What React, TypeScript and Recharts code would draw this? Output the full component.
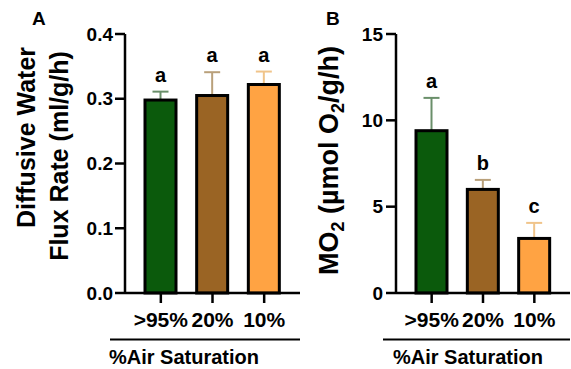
import React from "react";
import { BarChart, Bar, XAxis, YAxis, Label } from "recharts";

const GROUPS = [">95%", "20%", "10%"];

const FLUX_MEAN = [0.298, 0.305, 0.322];
const FLUX_SD = [0.013, 0.036, 0.02];
const FLUX_LETTERS = ["a", "a", "a"];
const FLUX_TICKS = [0, 0.1, 0.2, 0.3, 0.4];

const MO2_MEAN = [9.4, 6.0, 3.16];
const MO2_SD = [1.9, 0.55, 0.9];
const MO2_LETTERS = ["a", "b", "c"];
const MO2_TICKS = [0, 5, 10, 15];

const FILLS = ["#0b5a0c", "#9a6424", "#ffa343"];
const ERR_COLORS = ["#6a8f6a", "#b9a07a", "#f0c48a"];
const FONT = "'Liberation Sans', Arial, sans-serif";

const fluxData = GROUPS.map((g, i) => ({ group: g, value: FLUX_MEAN[i], sd: FLUX_SD[i], letter: FLUX_LETTERS[i] }));
const mo2Data = GROUPS.map((g, i) => ({ group: g, value: MO2_MEAN[i], sd: MO2_SD[i], letter: MO2_LETTERS[i] }));

// bar + upward-only SD whisker + significance letter
function BarWithError(props: any) {
  const { x, y, width, height, index, payload } = props;
  const cx = x + width / 2;
  const perUnit = height / payload.value;
  const yTop = y - payload.sd * perUnit;
  const ec = ERR_COLORS[index % ERR_COLORS.length];
  return (
    <g>
      <line x1={cx} x2={cx} y1={y} y2={yTop} stroke={ec} strokeWidth={2} />
      <line x1={cx - 8} x2={cx + 8} y1={yTop} y2={yTop} stroke={ec} strokeWidth={2} />
      <rect x={x} y={y} width={width} height={height} fill={FILLS[index % FILLS.length]} stroke="#000" strokeWidth={3} />
      <text x={cx} y={yTop - 10} textAnchor="middle" fontFamily={FONT} fontWeight="bold" fontSize={20} fill="#000">
        {payload.letter}
      </text>
    </g>
  );
}

const tickStyle = { fontFamily: FONT, fontWeight: "bold" as const, fill: "#000" };

function xTitle(lineFrom: number, lineTo: number, textX: number) {
  return (props: any) => {
    const vb = props.viewBox;
    return (
      <g>
        <line x1={vb.x + lineFrom} x2={vb.x + vb.width + lineTo} y1={vb.y + 46.5} y2={vb.y + 46.5} stroke="#000" strokeWidth={2} />
        <text x={vb.x + textX} y={vb.y + 71} textAnchor="middle" fontFamily={FONT} fontWeight="bold" fontSize={20} fill="#000">
          %Air Saturation
        </text>
      </g>
    );
  };
}

function fluxYTitle(props: any) {
  const vb = props.viewBox;
  return (
    <g fontFamily={FONT} fontWeight="bold" fontSize={25} fill="#000">
      <text transform={`translate(${vb.x + 35},137.5) rotate(-90)`} textAnchor="middle">Diffusive Water</text>
      <text transform={`translate(${vb.x + 68},156) rotate(-90)`} textAnchor="middle">Flux Rate (ml/g/h)</text>
    </g>
  );
}

function mo2YTitle(props: any) {
  const vb = props.viewBox;
  return (
    <text transform={`translate(${vb.x + 48},160.5) rotate(-90)`} textAnchor="middle" fontFamily={FONT} fontWeight="bold" fontSize={27} fill="#000">
      MO<tspan fontSize={18} dy={6}>2</tspan>
      <tspan dy={-6}> (µmol O</tspan>
      <tspan fontSize={18} dy={6}>2</tspan>
      <tspan dy={-6}>/g/h)</tspan>
    </text>
  );
}

export default function App() {
  return (
    <div style={{ position: "absolute", left: 0, top: 0, width: 571, height: 369, background: "#fff", overflow: "hidden" }}>
      <div style={{ position: "absolute", left: 32, top: 8, fontFamily: FONT, fontWeight: "bold", fontSize: 19 }}>A</div>
      <div style={{ position: "absolute", left: 326, top: 8, fontFamily: FONT, fontWeight: "bold", fontSize: 19 }}>B</div>

      <div style={{ position: "absolute", left: 0, top: 0 }}>
        <BarChart width={300} height={369} data={fluxData} margin={{ top: 34, right: 0, bottom: 0, left: 0 }} barSize={31}>
          <XAxis
            dataKey="group"
            height={76}
            padding={{ left: 10, right: 10 }}
            tickSize={10}
            tickMargin={9}
            tick={{ ...tickStyle, fontSize: 21 }}
            axisLine={{ stroke: "#000", strokeWidth: 2.5 }}
            tickLine={{ stroke: "#000", strokeWidth: 2.5 }}
            interval={0}
          >
            <Label content={xTitle(-15, 0, 59)} />
          </XAxis>
          <YAxis
            width={125}
            domain={[0, 0.4]}
            ticks={FLUX_TICKS}
            tickFormatter={(v: number) => v.toFixed(1)}
            tickSize={10}
            tickMargin={2}
            tick={{ ...tickStyle, fontSize: 19 }}
            axisLine={{ stroke: "#000", strokeWidth: 2.5 }}
            tickLine={{ stroke: "#000", strokeWidth: 2.5 }}
          >
            <Label content={fluxYTitle} />
          </YAxis>
          <Bar dataKey="value" shape={BarWithError} isAnimationActive={false} />
        </BarChart>
      </div>

      <div style={{ position: "absolute", left: 290, top: 0 }}>
        <BarChart width={281} height={369} data={mo2Data} margin={{ top: 34, right: 1, bottom: 0, left: 0 }} barSize={31}>
          <XAxis
            dataKey="group"
            height={76}
            padding={{ left: 10, right: 10 }}
            tickSize={10}
            tickMargin={9}
            tick={{ ...tickStyle, fontSize: 21 }}
            axisLine={{ stroke: "#000", strokeWidth: 2.5 }}
            tickLine={{ stroke: "#000", strokeWidth: 2.5 }}
            interval={0}
          >
            <Label content={xTitle(-13, 0, 72)} />
          </XAxis>
          <YAxis
            width={106}
            domain={[0, 15]}
            ticks={MO2_TICKS}
            tickSize={10}
            tickMargin={3}
            tick={{ ...tickStyle, fontSize: 19 }}
            axisLine={{ stroke: "#000", strokeWidth: 2.5 }}
            tickLine={{ stroke: "#000", strokeWidth: 2.5 }}
          >
            <Label content={mo2YTitle} />
          </YAxis>
          <Bar dataKey="value" shape={BarWithError} isAnimationActive={false} />
        </BarChart>
      </div>
    </div>
  );
}
